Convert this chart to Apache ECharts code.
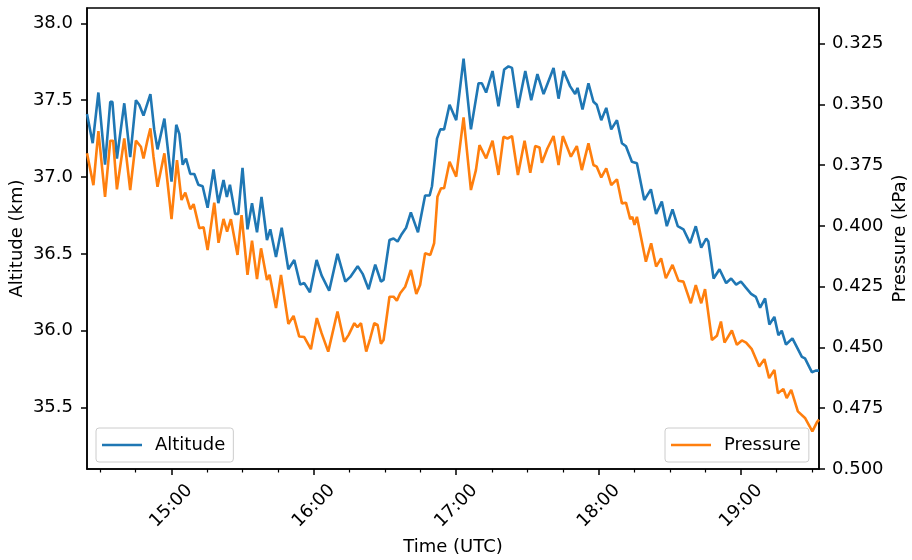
<!DOCTYPE html>
<html lang="en">
<head>
    <meta charset="UTF-8">
    <title>Altitude and pressure</title>
    <style>
        body{ margin:0; background:#fff; }
        #main{ width:912px; height:560px; }
    </style>
</head>
<body>
<div id="main"></div>
<script src="https://cdn.jsdelivr.net/npm/echarts@6/dist/echarts.min.js"></script>
<script>
    // time in minutes after midnight (UTC)
    const altTime = [864.5,866.9,869.3,872.1,874.3,875.2,877.1,880.2,882.7,885.1,886.5,888.3,891.2,892.8,894.2,897.1,
        900.1,902.1,903.4,904.8,906.2,908.0,909.7,911.4,913.2,915.3,917.8,919.8,922.0,923.4,924.7,926.9,928.2,930.0,
        932.1,934.0,936.1,938.0,940.3,941.7,944.1,946.5,949.3,951.8,954.3,956.0,958.4,961.2,963.3,966.5,970.0,973.3,
        975.4,978.5,980.6,983.1,985.9,988.3,989.4,991.9,993.6,995.3,997.1,998.9,1000.9,1003.9,1006.9,1008.8,1009.8,
        1011.9,1013.3,1014.9,1017.2,1020.0,1023.1,1026.2,1029.4,1030.8,1032.6,1035.3,1037.8,1040.2,1042.0,1043.5,
        1046.0,1049.1,1051.6,1054.2,1056.8,1061.0,1063.1,1065.2,1068.0,1070.1,1071.1,1073.2,1075.7,1077.8,1079.2,
        1081.1,1083.2,1085.3,1087.7,1089.8,1091.5,1094.0,1096.1,1099.2,1102.0,1104.2,1106.6,1108.7,1111.1,1113.3,
        1115.7,1118.5,1120.9,1123.2,1125.3,1126.2,1128.4,1130.9,1133.7,1135.8,1137.9,1139.9,1142.0,1144.2,1146.2,
        1148.0,1150.1,1151.9,1154.0,1155.7,1157.1,1158.9,1161.6,1165.6,1166.9,1169.8,1171.4,1172.8];
    const altitude = [37.41,37.22,37.55,37.08,37.49,37.49,37.12,37.48,37.13,37.50,37.47,37.40,37.54,37.31,37.18,37.38,
        36.97,37.34,37.28,37.08,37.12,37.02,37.02,36.95,36.94,36.80,37.05,36.83,36.98,36.87,36.95,36.76,36.76,37.06,
        36.66,36.83,36.64,36.87,36.59,36.66,36.48,36.67,36.40,36.46,36.30,36.31,36.25,36.46,36.36,36.26,36.50,36.32,
        36.35,36.42,36.37,36.27,36.43,36.32,36.33,36.59,36.60,36.58,36.63,36.67,36.77,36.64,36.88,36.88,36.94,
        37.25,37.31,37.31,37.47,37.37,37.77,37.31,37.61,37.61,37.55,37.69,37.46,37.70,37.72,37.71,
        37.45,37.69,37.50,37.67,37.54,37.71,37.51,37.69,37.59,37.54,37.58,37.44,37.61,37.49,37.47,
        37.37,37.45,37.31,37.37,37.22,37.20,37.10,37.09,36.85,36.92,36.76,36.84,36.68,36.79,36.68,
        36.66,36.57,36.68,36.54,36.60,36.58,36.34,36.40,36.31,36.34,36.30,36.32,36.28,36.24,36.22,
        36.15,36.21,36.04,36.09,35.97,36.00,35.91,35.95,35.83,35.82,35.73,35.74,35.74];

    const presTime = [864.5,867.2,869.3,872.1,874.3,875.5,877.1,880.2,882.7,885.1,887.2,888.3,889.8,891.2,892.5,894.2,
        897.1,900.1,902.4,904.3,905.9,908.0,909.4,911.8,913.6,915.3,918.1,919.9,922.0,923.5,925.1,927.9,929.6,932.1,
        934.0,936.1,937.8,940.3,941.4,944.1,946.2,949.3,951.5,953.9,956.0,958.8,961.3,963.3,966.1,970.0,972.8,974.7,
        977.1,978.4,979.9,982.1,983.8,985.5,986.9,988.3,989.4,991.9,993.6,995.0,996.4,998.5,1000.9,1003.2,1004.8,
        1006.9,1009.1,1010.7,1012.1,1013.6,1014.9,1017.2,1020.0,1023.1,1026.2,1028.3,1029.8,1032.6,1035.3,1037.8,
        1039.9,1041.6,1043.5,1046.0,1048.8,1051.2,1053.3,1055.1,1056.1,1058.4,1061.0,1063.1,1064.9,1068.3,1070.8,
        1072.9,1075.7,1077.8,1079.2,1081.1,1083.2,1085.3,1087.7,1089.8,1091.5,1093.3,1094.2,1095.1,1096.1,1099.9,
        1102.1,1104.2,1106.3,1108.3,1111.1,1113.6,1115.7,1118.8,1120.9,1123.2,1124.8,1127.7,1129.8,1131.5,1133.0,
        1136.1,1138.2,1140.3,1142.1,1144.5,1147.6,1149.8,1151.8,1154.0,1155.5,1157.8,1159.2,1161.1,1163.9,1166.9,
        1170.0,1171.9,1172.8];
    const pressure = [0.3701,0.3832,0.3610,0.3880,0.3649,0.3649,0.3849,0.3640,0.3852,0.3649,0.3674,0.3722,0.3654,0.3598,0.3715,0.3839,
        0.3701,0.3972,0.3729,0.3893,0.3863,0.3931,0.3910,0.4009,0.4005,0.4099,0.3904,0.4069,0.3971,0.4023,0.3972,0.4119,0.3955,0.4201,
        0.4060,0.4219,0.4092,0.4222,0.4201,0.4338,0.4201,0.4403,0.4370,0.4455,0.4457,0.4507,0.4379,0.4441,0.4517,0.4352,0.4476,0.4448,
        0.4400,0.4416,0.4400,0.4517,0.4462,0.4400,0.4407,0.4485,0.4469,0.4291,0.4291,0.4307,0.4277,0.4250,0.4181,0.4280,0.4243,
        0.4112,0.4119,0.4071,0.3880,0.3845,0.3845,0.3736,0.3797,0.3553,0.3852,0.3770,0.3667,0.3722,0.3649,0.3790,
        0.3633,0.3640,0.3630,0.3790,0.3649,0.3781,0.3671,0.3677,0.3740,0.3681,0.3630,0.3749,0.3630,0.3715,0.3671,
        0.3770,0.3660,0.3749,0.3756,0.3800,0.3763,0.3832,0.3808,0.3907,0.3904,0.3972,0.3962,0.3996,0.3962,0.4147,
        0.4071,0.4167,0.4133,0.4215,0.4160,0.4225,0.4229,0.4318,0.4243,0.4318,0.4260,0.4469,0.4452,0.4393,0.4480,
        0.4430,0.4489,0.4471,0.4480,0.4507,0.4578,0.4548,0.4626,0.4592,0.4688,0.4671,0.4708,0.4674,0.4763,0.4790,
        0.4845,0.4808,0.4797];

    const hourLabels = ['15:00','16:00','17:00','18:00','19:00'];
    const altTicks = [35.5,36.0,36.5,37.0,37.5,38.0];
    const presTicks = [0.325,0.350,0.375,0.400,0.425,0.450,0.475,0.500];

    const timeMin = 864.5, timeMax = 1172.8;
    const font = 'DejaVu Sans';

    //时间转分钟
    function timeToMinute(time){
        const [h,m]=time.split(':').map(d=>parseInt(d))
        return h*60+m
    }
    //分钟转时间
    function minuteToTime(v){
        const h=Math.floor(v/60)
        const m=Math.round(v-h*60)
        return h+':'+(m<10?'0'+m:m)
    }

    const hourTicks = hourLabels.map(timeToMinute)
    const quarterTicks = []
    for(let v=Math.ceil(timeMin/15)*15; v<=timeMax; v+=15){
        if(v%60!==0) quarterTicks.push(v)
    }

    const zip = (a,b)=>a.map((d,i)=>[d,b[i]])

    const gridBox = {left:87, top:8, width:732, height:461, containLabel:false, outerBoundsMode:'none'}
    const labelStyle = {color:'#000', fontFamily:font, fontSize:18}
    const lineBlack = {color:'#000', width:1.5}
    const legendBase = {
        padding:[8,8,8,6], itemWidth:40, itemHeight:2.6, icon:'rect',
        backgroundColor:'rgba(255,255,255,0.8)', borderColor:'#cccccc', borderWidth:1, borderRadius:3,
        textStyle:Object.assign({padding:[0,0,0,8]}, labelStyle)
    }

    const myChart = echarts.init(document.getElementById('main'), null, {renderer:'canvas'});

    const option = {
        animation:false,
        color:['#1f77b4','#ff7f0e'],
        grid:[
            Object.assign({show:true, borderColor:'#000', borderWidth:1.5}, gridBox),
            Object.assign({show:false}, gridBox)
        ],
        legend:[
            Object.assign({data:['Altitude'], left:96, top:428}, legendBase),
            Object.assign({data:['Pressure'], left:665, top:428}, legendBase)
        ],
        xAxis:[
            {
                type:'value', gridIndex:0, min:timeMin, max:timeMax,
                name:'Time (UTC)', nameLocation:'middle', nameGap:69, nameMoveOverlap:false, nameTextStyle:labelStyle,
                axisLine:{show:true, lineStyle:lineBlack},
                axisTick:{show:true, length:6, lineStyle:lineBlack, customValues:hourTicks},
                axisLabel:Object.assign({
                    customValues:hourTicks, rotate:45, align:'center', verticalAlign:'middle', margin:37,
                    formatter:v=>minuteToTime(v)
                }, labelStyle),
                splitLine:{show:false}
            },
            {
                type:'value', gridIndex:1, min:timeMin, max:timeMax,
                axisLine:{show:false},
                axisTick:{show:true, length:3.5, lineStyle:{color:'#000', width:1.2}, customValues:quarterTicks},
                axisLabel:{show:false},
                splitLine:{show:false}
            }
        ],
        yAxis:[
            {
                type:'value', gridIndex:0, position:'left', min:35.1, max:38.1,
                name:'Altitude (km)', nameLocation:'middle', nameRotate:90, nameGap:61, nameMoveOverlap:false, nameTextStyle:labelStyle,
                axisLine:{show:true, lineStyle:lineBlack},
                axisTick:{show:true, length:6, lineStyle:lineBlack, customValues:altTicks},
                axisLabel:Object.assign({customValues:altTicks, margin:14, formatter:v=>v.toFixed(1)}, labelStyle),
                splitLine:{show:false}
            },
            {
                type:'value', gridIndex:0, position:'right', min:0.3103, max:0.5, inverse:true,
                name:'Pressure (kPa)', nameLocation:'middle', nameRotate:90, nameGap:72, nameMoveOverlap:false, nameTextStyle:labelStyle,
                axisLine:{show:true, lineStyle:lineBlack},
                axisTick:{show:true, length:6, lineStyle:lineBlack, customValues:presTicks},
                axisLabel:Object.assign({customValues:presTicks, margin:13, formatter:v=>v.toFixed(3)}, labelStyle),
                splitLine:{show:false}
            },
            {
                type:'value', gridIndex:1, show:false, min:0, max:1
            }
        ],
        series:[
            {
                name:'Altitude', type:'line', xAxisIndex:0, yAxisIndex:0,
                data:zip(altTime, altitude), symbol:'none', lineStyle:{width:2.6}
            },
            {
                name:'Pressure', type:'line', xAxisIndex:0, yAxisIndex:1,
                data:zip(presTime, pressure), symbol:'none', lineStyle:{width:2.6}
            }
        ]
    };

    myChart.setOption(option);
</script>
</body>
</html>
